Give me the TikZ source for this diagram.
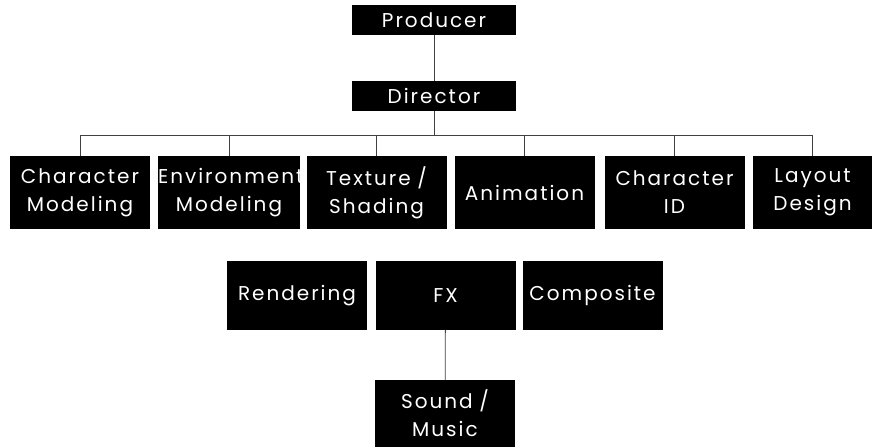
\documentclass[tikz,border=0pt]{standalone}
\usepackage{fontspec}
\newfontfamily\orgfont[LetterSpace=10]{Poppins}

\begin{document}
\begin{tikzpicture}[x=1pt, y=-1pt,
    role/.style={rectangle, fill=black, text=white, align=center, inner sep=0pt, text width=140pt, minimum height=73pt, font=\orgfont\fontsize{20}{28}\selectfont},
    head/.style={role, text width=164pt, minimum height=30pt},
    task/.style={role, minimum height=69pt},
    link/.style={draw=black!75, line width=0.8pt}]
    \useasboundingbox (0,0) rectangle (882,447);

    % top of the chain
    \node[head] (prod) at (434,20) {Producer};
    \node[head] (dir) at (434,96) {Director};
    \draw[link] (prod) -- (dir);

    % departments under the director
    \node[role] (cmod) at (80,192.5) {Character\\Modeling};
    \node[role, text width=142pt] (emod) at (229,192.5) {Environment\\Modeling};
    \node[role] (tex) at (376.5,192.5) {Texture /\\Shading};
    \node[role] (anim) at (524.5,192.5) {Animation};
    \node[role] (cid) at (674.5,192.5) {Character\\ID};
    \node[role, text width=119pt] (lay) at (812.5,192.5) {Layout\\Design};
    \foreach \n in {cmod,emod,tex,anim,cid,lay}
        \draw[link] (dir.south) -- ++(0,24) -| (\n.north);

    % post production
    \node[task] (rend) at (297,295.5) {Rendering};
    \node[task] (fx) at (445.5,295.5) {FX};
    \node[task] (comp) at (592.5,295.5) {Composite};
    \node[task, minimum height=67pt] (snd) at (445,413.5) {Sound /\\Music};
    \draw[link] (fx) -- (snd);
\end{tikzpicture}
\end{document}
